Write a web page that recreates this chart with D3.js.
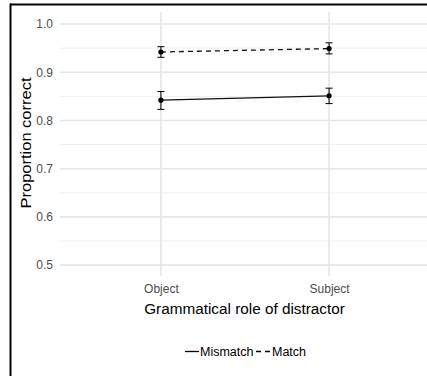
<!DOCTYPE html>
<html><head><meta charset="utf-8">
<script src="https://cdn.jsdelivr.net/npm/d3@7"></script>
<style>body{margin:0;background:#fff}svg{display:block;font-family:"Liberation Sans",Arial,sans-serif}</style>
</head><body><svg id="c" width="427" height="376"></svg>
<script>
const categories = ["Object", "Subject"];
const seriesNames = ["Mismatch", "Match"];
const mismatchMean = [0.842, 0.851];
const mismatchLow = [0.823, 0.835];
const mismatchHigh = [0.860, 0.867];
const matchMean = [0.942, 0.949];
const matchLow = [0.931, 0.938];
const matchHigh = [0.953, 0.961];
const yTicks = [0.5, 0.6, 0.7, 0.8, 0.9, 1.0];
const yMinor = [0.55, 0.65, 0.75, 0.85, 0.95];

(function () {
const svg = d3.select("#c");
const pL = 60, pR = 430, pT = 12, pB = 276;
const x = d3.scalePoint().domain(categories).range([pL, pR]).padding(0.6);
const y = d3.scaleLinear().domain([0.4775, 1.0249]).range([pB, pT]);
const FF = "Liberation Sans, Arial, sans-serif";

// grid
const g = svg.append("g");
g.selectAll(".minor").data(yMinor).join("line")
  .attr("x1", pL).attr("x2", pR).attr("y1", d => y(d)).attr("y2", d => y(d))
  .attr("stroke", "#efefef").attr("stroke-width", 1);
g.selectAll(".major").data(yTicks).join("line")
  .attr("x1", pL).attr("x2", pR).attr("y1", d => y(d)).attr("y2", d => y(d))
  .attr("stroke", "#e6e6e6").attr("stroke-width", 1.6);
g.selectAll(".vmaj").data(categories).join("line")
  .attr("x1", d => x(d)).attr("x2", d => x(d)).attr("y1", pT).attr("y2", pB)
  .attr("stroke", "#e6e6e6").attr("stroke-width", 1.6);

// axes (labels only)
const yAxis = d3.axisLeft(y).tickValues(yTicks).tickFormat(d3.format(".1f")).tickSize(0).tickPadding(7);
const ya = svg.append("g").attr("transform", `translate(${pL},0)`).call(yAxis);
ya.select(".domain").remove();
ya.selectAll("text").attr("fill", "#4d4d4d").attr("font-size", 12).style("font-family", FF);

const xAxis = d3.axisBottom(x).tickSize(0).tickPadding(8);
const xa = svg.append("g").attr("transform", `translate(0,${pB})`).call(xAxis);
xa.select(".domain").remove();
xa.selectAll("text").attr("fill", "#4d4d4d").attr("font-size", 12).style("font-family", FF);

// titles
svg.append("text").attr("transform", "translate(31,143) rotate(-90)").attr("text-anchor", "middle")
  .attr("font-size", 15).attr("fill", "#000")
  .attr("textLength", 131).attr("lengthAdjust", "spacingAndGlyphs")
  .text("Proportion correct");
svg.append("text").attr("x", 244.5).attr("y", 314).attr("text-anchor", "middle")
  .attr("font-size", 15.3).attr("fill", "#000").text("Grammatical role of distractor");

// series
const series = [
  {name: seriesNames[0], mean: mismatchMean, lo: mismatchLow, hi: mismatchHigh, dash: null},
  {name: seriesNames[1], mean: matchMean, lo: matchLow, hi: matchHigh, dash: "5,4"}
];
const line = d3.line().x(d => x(d.c)).y(d => y(d.v));
series.forEach(s => {
  const pts = categories.map((c, i) => ({c, v: s.mean[i], lo: s.lo[i], hi: s.hi[i]}));
  svg.append("path").datum(pts).attr("d", line).attr("fill", "none")
    .attr("stroke", "#111").attr("stroke-width", 1.3).attr("stroke-dasharray", s.dash);
  const eb = svg.append("g");
  pts.forEach(p => {
    const cx = x(p.c), w = 3.5;
    eb.append("line").attr("x1", cx).attr("x2", cx).attr("y1", y(p.lo)).attr("y2", y(p.hi)).attr("stroke", "#000").attr("stroke-width", 1);
    eb.append("line").attr("x1", cx - w).attr("x2", cx + w).attr("y1", y(p.lo)).attr("y2", y(p.lo)).attr("stroke", "#000").attr("stroke-width", 1);
    eb.append("line").attr("x1", cx - w).attr("x2", cx + w).attr("y1", y(p.hi)).attr("y2", y(p.hi)).attr("stroke", "#000").attr("stroke-width", 1);
    eb.append("circle").attr("cx", cx).attr("cy", y(p.v)).attr("r", 2.6).attr("fill", "#000");
  });
});

// legend
const lg = svg.append("g").attr("font-size", 12.5);
lg.append("line").attr("x1", 185).attr("x2", 199).attr("y1", 351.5).attr("y2", 351.5).attr("stroke", "#000").attr("stroke-width", 1.3);
lg.append("text").attr("x", 200).attr("y", 355.5).text(seriesNames[0]);
lg.append("line").attr("x1", 256).attr("x2", 271).attr("y1", 351.5).attr("y2", 351.5).attr("stroke", "#000").attr("stroke-width", 1.3).attr("stroke-dasharray", "5,4");
lg.append("text").attr("x", 272).attr("y", 355.5).text(seriesNames[1]);

// frame
svg.append("line").attr("x1", 10).attr("x2", 427).attr("y1", 4.5).attr("y2", 4.5).attr("stroke", "#000").attr("stroke-width", 2);
svg.append("line").attr("x1", 10.5).attr("x2", 10.5).attr("y1", 3.5).attr("y2", 376).attr("stroke", "#000").attr("stroke-width", 2);
})();
</script></body></html>
